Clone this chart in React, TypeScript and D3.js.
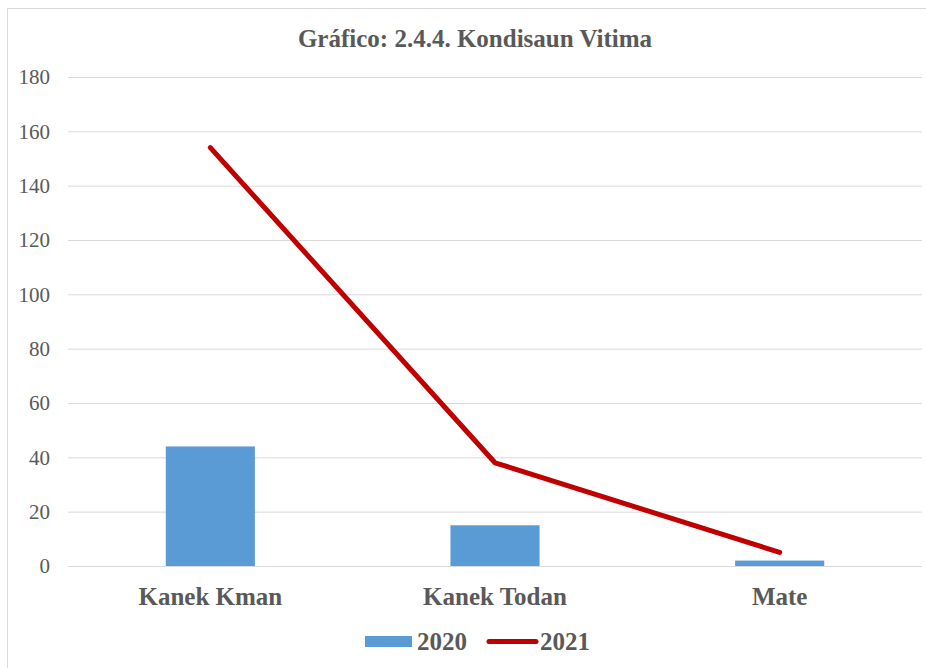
import { useEffect, useRef } from 'react';
import * as d3 from 'd3';

const categories = ['Kanek Kman', 'Kanek Todan', 'Mate'];
const values2020 = [44, 15, 2];
const values2021 = [154, 38, 5];
const yTicks = [0, 20, 40, 60, 80, 100, 120, 140, 160, 180];
const seriesNames = ['2020', '2021'];
const chartTitle = 'Gráfico: 2.4.4. Kondisaun Vitima';

const App = () => {
  const svgRef = useRef<SVGSVGElement>(null);

  useEffect(() => {
    const svg = d3.select(svgRef.current);
    svg.selectAll('*').remove();

    const W = 926;
    const H = 668;
    const plot = { left: 68, right: 922, top: 77, bottom: 566 };
    const textColor = '#595959';
    const serif = '"Liberation Serif", "Times New Roman", serif';

    svg.attr('width', W).attr('height', H);

    // outer chart border
    svg.append('rect')
      .attr('x', 7.5).attr('y', 8.5)
      .attr('width', 940).attr('height', 680)
      .attr('fill', '#fff')
      .attr('stroke', '#d9d9d9');

    svg.append('text')
      .attr('x', 475).attr('y', 47)
      .attr('text-anchor', 'middle')
      .style('font-family', serif)
      .style('font-weight', 'bold')
      .style('font-size', '25px')
      .style('fill', textColor)
      .text(chartTitle);

    const x = d3.scaleBand()
      .domain(categories)
      .range([plot.left, plot.right])
      .paddingInner(0.687)
      .paddingOuter(0.3435);

    const xc = d3.scalePoint()
      .domain(categories)
      .range([plot.left, plot.right])
      .padding(0.5);

    const y = d3.scaleLinear()
      .domain([0, 180])
      .range([plot.bottom, plot.top]);

    // gridlines + tick labels
    const grid = svg.append('g');
    grid.selectAll('line')
      .data(yTicks)
      .enter().append('line')
      .attr('x1', plot.left).attr('x2', plot.right)
      .attr('y1', d => y(d) + 0.5).attr('y2', d => y(d) + 0.5)
      .attr('stroke', '#d9d9d9')
      .attr('stroke-width', 1);

    grid.selectAll('text')
      .data(yTicks)
      .enter().append('text')
      .attr('x', 50)
      .attr('y', d => y(d))
      .attr('dy', '0.35em')
      .attr('text-anchor', 'end')
      .style('font-family', serif)
      .style('font-size', '21px')
      .style('fill', textColor)
      .text(d => d);

    // bars (2020)
    svg.append('g')
      .selectAll('rect')
      .data(values2020)
      .enter().append('rect')
      .attr('x', (d, i) => x(categories[i]))
      .attr('y', d => y(d))
      .attr('width', x.bandwidth())
      .attr('height', d => y(0) - y(d))
      .attr('fill', '#5b9bd5');

    // line (2021)
    const line = d3.line<number>()
      .x((d, i) => xc(categories[i]))
      .y(d => y(d));

    svg.append('path')
      .datum(values2021)
      .attr('fill', 'none')
      .attr('stroke', '#c00000')
      .attr('stroke-width', 5)
      .attr('stroke-linejoin', 'round')
      .attr('stroke-linecap', 'round')
      .attr('d', line);

    // category labels
    svg.append('g')
      .selectAll('text')
      .data(categories)
      .enter().append('text')
      .attr('x', d => xc(d))
      .attr('y', 605)
      .attr('text-anchor', 'middle')
      .style('font-family', serif)
      .style('font-weight', 'bold')
      .style('font-size', '25px')
      .style('fill', textColor)
      .text(d => d);

    // legend
    const legend = svg.append('g');
    legend.append('rect')
      .attr('x', 365).attr('y', 636)
      .attr('width', 47).attr('height', 11)
      .attr('fill', '#5b9bd5');
    legend.append('text')
      .attr('x', 417).attr('y', 650)
      .style('font-family', serif)
      .style('font-weight', 'bold')
      .style('font-size', '25px')
      .style('fill', textColor)
      .text(seriesNames[0]);
    legend.append('line')
      .attr('x1', 489).attr('x2', 536)
      .attr('y1', 641.5).attr('y2', 641.5)
      .attr('stroke', '#c00000')
      .attr('stroke-width', 5)
      .attr('stroke-linecap', 'round');
    legend.append('text')
      .attr('x', 540).attr('y', 650)
      .style('font-family', serif)
      .style('font-weight', 'bold')
      .style('font-size', '25px')
      .style('fill', textColor)
      .text(seriesNames[1]);
  }, []);

  return (
    <svg ref={svgRef} style={{ position: 'absolute', left: 0, top: 0 }}></svg>
  );
};

export default App;
